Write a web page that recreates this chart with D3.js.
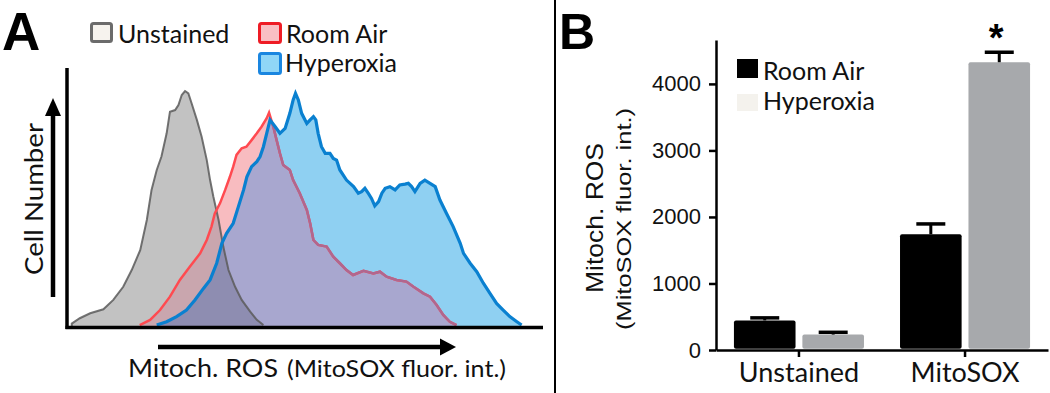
<!DOCTYPE html>
<html><head><meta charset="utf-8">
<script src="https://cdn.jsdelivr.net/npm/d3@7"></script>
<style>body{margin:0;background:#fff}svg{display:block}</style>
</head><body>
<svg id="chart" width="1050" height="393"></svg>
<script>
// ---------- Panel A: flow histograms (x = fluorescence channel 0-1000, y = % of max count) ----------
const unstainedHist = [[8,0],[8,1],[25,3.3],[47,5.4],[75,7.1],[96,11.1],[117,16.7],[135,23.8],[153,32.3],[167,45.1],[177,57.9],[188,66.4],[198,72.1],[209,82],[216,91.2],[227,91.9],[234,94],[241,98.3],[248,100],[255,99],[262,94.7],[273,87.7],[283,80.6],[294,70.6],[301,62.1],[308,55],[319,45.1],[329,33.8],[340,23.8],[354,16.7],[368,11.1],[386,6.1],[400,2.6],[414,0.4]];
const roomAirHist = [[152,0.4],[174,2.6],[195,6.8],[216,12.5],[237,19.6],[258,25.2],[280,30.9],[294,36.6],[304,42.3],[311,47.9],[322,52.2],[333,57.9],[343,63.5],[350,67.8],[357,72.8],[368,75.6],[378,76.3],[389,79.1],[400,82],[410,84.8],[421,88.4],[426,90.8],[435,84.8],[442,79.1],[449,73.5],[456,68.5],[470,66.4],[477,62.1],[491,56.5],[506,49.4],[513,43.7],[520,36.6],[530,34.5],[548,33.8],[562,29.5],[576,26.7],[590,23.8],[604,21.7],[626,23.5],[647,22.4],[661,23.1],[675,21],[696,19.6],[717,18.9],[732,16.7],[753,13.9],[767,12.5],[781,8.9],[795,4.7],[809,1.8],[823,0.4]];
const hyperoxiaHist = [[188,0.4],[209,1.8],[230,4.0],[251,6.8],[269,11.1],[287,16.0],[301,19.6],[315,26.7],[326,35.2],[336,39.4],[350,43.7],[361,50.8],[372,57.9],[379,63.5],[389,67.8],[400,69.9],[407,72.1],[414,76.3],[421,82.0],[428,87.7],[439,84.8],[449,82.0],[460,84.1],[470,90.5],[477,96.2],[482,99.0],[488,96.2],[495,90.5],[506,86.2],[513,87.7],[520,89.1],[525,87.7],[530,82.0],[537,76.3],[545,73.5],[555,73.5],[562,71.3],[569,70.6],[576,66.4],[590,62.1],[605,59.3],[615,56.5],[622,57.2],[629,58.6],[636,56.5],[643,54.3],[650,51.1],[658,52.9],[665,56.5],[672,58.6],[682,59.3],[693,57.9],[703,60.0],[714,60.4],[721,60.7],[728,59.3],[735,57.2],[746,60.7],[756,62.1],[767,60.7],[778,59.3],[788,53.6],[802,47.9],[816,42.3],[831,35.2],[838,30.9],[852,26.7],[866,23.1],[880,18.2],[894,13.9],[908,9.6],[922,6.8],[936,4.0],[951,1.8],[961,0.4]];
const histLegend = ["Unstained", "Room Air", "Hyperoxia"];

// ---------- Panel B: bar chart ----------
const categories = ["Unstained", "MitoSOX"];
const groups = ["Room Air", "Hyperoxia"];
const roomAirMean = [445, 1740];
const roomAirSE = [38, 155];
const hyperoxiaMean = [232, 4326];
const hyperoxiaSE = [34, 150];
const yTicksB = [0, 1000, 2000, 3000, 4000];

const CAL = "Lato, 'Open Sans', sans-serif";
const ARIAL = "'Liberation Sans', Arial, sans-serif";

const svg = d3.select("#chart");

// ===== Panel A =====
const xA = d3.scaleLinear().domain([0, 1000]).range([68, 540]);
const yA = d3.scaleLinear().domain([0, 100]).range([326, 91]);
const area = d3.area().x(d => xA(d[0])).y0(yA(0)).y1(d => yA(d[1]));
const line = d3.line().x(d => xA(d[0])).y(d => yA(d[1]));

const defs = svg.append("defs");
defs.append("clipPath").attr("id", "clipRed").append("path").attr("d", area(roomAirHist));
defs.append("clipPath").attr("id", "clipBlue").append("path").attr("d", area(hyperoxiaHist));

const gA = svg.append("g");
gA.append("path").attr("d", area(unstainedHist)).attr("fill", "#c2c2c2");
gA.append("path").attr("d", area(roomAirHist)).attr("fill", "#f8bcc0");
gA.append("path").attr("d", area(hyperoxiaHist)).attr("fill", "#8fd0f2");
const inRed = gA.append("g").attr("clip-path", "url(#clipRed)");
inRed.append("path").attr("d", area(hyperoxiaHist)).attr("fill", "#a8a7cf");
inRed.append("path").attr("d", area(unstainedHist)).attr("fill", "#c9a6ae");
inRed.append("g").attr("clip-path", "url(#clipBlue)")
  .append("path").attr("d", area(unstainedHist)).attr("fill", "#8e8db1");

gA.append("path").attr("d", line(unstainedHist)).attr("fill", "none")
  .attr("stroke", "#5a5a5a").attr("stroke-width", 2).attr("stroke-opacity", 0.85);
gA.append("path").attr("d", line(roomAirHist)).attr("fill", "none")
  .attr("stroke", "#ff4a50").attr("stroke-width", 2.5);
gA.append("g").attr("clip-path", "url(#clipBlue)")
  .append("path").attr("d", line(roomAirHist)).attr("fill", "none")
  .attr("stroke", "#b0678f").attr("stroke-width", 2.5);
gA.append("path").attr("d", line(hyperoxiaHist)).attr("fill", "none")
  .attr("stroke", "#0a80d0").attr("stroke-width", 3.2);

// axes frame
svg.append("line").attr("x1", 67).attr("x2", 67).attr("y1", 68).attr("y2", 329)
  .attr("stroke", "#000").attr("stroke-width", 3.5);
svg.append("line").attr("x1", 65.5).attr("x2", 543).attr("y1", 327.5).attr("y2", 327.5)
  .attr("stroke", "#000").attr("stroke-width", 3.5);

// Cell Number arrow
svg.append("line").attr("x1", 53).attr("x2", 53).attr("y1", 297).attr("y2", 112)
  .attr("stroke", "#000").attr("stroke-width", 4.5);
svg.append("path").attr("d", "M53,98 L45,116 L61,116 Z").attr("fill", "#000");
svg.append("text").attr("transform", "translate(43,199) rotate(-90)")
  .attr("text-anchor", "middle").attr("font-family", CAL).attr("font-size", 25)
  .attr("textLength", 152).attr("lengthAdjust", "spacingAndGlyphs")
  .attr("fill", "#111").text("Cell Number");

// x arrow
svg.append("line").attr("x1", 158).attr("x2", 444).attr("y1", 347).attr("y2", 347)
  .attr("stroke", "#000").attr("stroke-width", 4.5);
svg.append("path").attr("d", "M456,347 L440,338.5 L440,355.5 Z").attr("fill", "#000");
const xt = svg.append("text").attr("y", 377).attr("font-family", CAL).attr("fill", "#111");
xt.append("tspan").attr("x", 128).attr("font-size", 25)
  .attr("textLength", 150).attr("lengthAdjust", "spacingAndGlyphs").text("Mitoch. ROS");
xt.append("tspan").attr("x", 287).attr("font-size", 23)
  .attr("textLength", 219).attr("lengthAdjust", "spacingAndGlyphs").text("(MitoSOX fluor. int.)");

// panel label A
svg.append("text").attr("x", 2).attr("y", 50).attr("font-family", ARIAL).attr("font-weight", "bold")
  .attr("font-size", 53).text("A");

// legend A
const legA = [
  {name: histLegend[0], x: 91.5, y: 23.5, w: 20, h: 18, stroke: "#6b6b6b", fill: "#f6f3ee", tx: 118, ty: 43},
  {name: histLegend[1], x: 259.5, y: 23.5, w: 21, h: 19, stroke: "#ee1c25", fill: "#f9bfc3", tx: 286, ty: 43},
  {name: histLegend[2], x: 259.5, y: 53.5, w: 21, h: 20, stroke: "#1a86e0", fill: "#90d6f7", tx: 285, ty: 72}
];
legA.forEach(d => {
  svg.append("rect").attr("x", d.x).attr("y", d.y).attr("width", d.w).attr("height", d.h)
    .attr("rx", 2).attr("fill", d.fill).attr("stroke", d.stroke).attr("stroke-width", 3);
  svg.append("text").attr("x", d.tx).attr("y", d.ty).attr("font-family", CAL).attr("font-size", 25)
    .attr("fill", "#111").text(d.name);
});

// separator
svg.append("line").attr("x1", 555).attr("x2", 555).attr("y1", 0).attr("y2", 393)
  .attr("stroke", "#000").attr("stroke-width", 2);

// ===== Panel B =====
const yB = d3.scaleLinear().domain([0, 4660]).range([350, 40]);
const xB = d3.scaleBand().domain(categories).range([716, 1048]).paddingInner(0.217).paddingOuter(0.108);
const xSub = d3.scaleBand().domain(groups).range([0, xB.bandwidth()]).paddingInner(0.1);

const yAxis = svg.append("g").attr("transform", "translate(716,0)")
  .call(d3.axisLeft(yB).tickValues(yTicksB).tickFormat(d3.format("d")).tickSize(7).tickSizeOuter(0).tickPadding(8));
yAxis.selectAll("text").attr("font-family", ARIAL).attr("font-size", 22).attr("fill", "#111");
yAxis.selectAll("path,line").attr("stroke", "#000").attr("stroke-width", 2.5);

const xAxis = svg.append("g").attr("transform", "translate(0,350)")
  .call(d3.axisBottom(xB).tickSize(7).tickSizeOuter(0).tickPadding(6));
xAxis.selectAll("text").attr("font-family", CAL).attr("font-size", 27).attr("fill", "#111");
xAxis.selectAll("path,line").attr("stroke", "#000").attr("stroke-width", 2.5);

const barData = [];
categories.forEach((c, i) => {
  barData.push({cat: c, grp: groups[0], v: roomAirMean[i], se: roomAirSE[i], color: "#000"});
  barData.push({cat: c, grp: groups[1], v: hyperoxiaMean[i], se: hyperoxiaSE[i], color: "#a7a9ac"});
});
const gB = svg.append("g");
gB.selectAll("rect.bar").data(barData).join("rect").attr("class", "bar")
  .attr("x", d => xB(d.cat) + xSub(d.grp)).attr("width", xSub.bandwidth())
  .attr("y", d => yB(d.v)).attr("height", d => yB(0) - yB(d.v) - 1.2)
  .attr("rx", 2).attr("fill", d => d.color);
// error bars
gB.selectAll("line.stem").data(barData).join("line").attr("class", "stem")
  .attr("x1", d => xB(d.cat) + xSub(d.grp) + xSub.bandwidth() / 2)
  .attr("x2", d => xB(d.cat) + xSub(d.grp) + xSub.bandwidth() / 2)
  .attr("y1", d => yB(d.v)).attr("y2", d => yB(d.v + d.se))
  .attr("stroke", "#000").attr("stroke-width", 3);
gB.selectAll("line.cap").data(barData).join("line").attr("class", "cap")
  .attr("x1", d => xB(d.cat) + xSub(d.grp) + xSub.bandwidth() / 2 - 14.5)
  .attr("x2", d => xB(d.cat) + xSub(d.grp) + xSub.bandwidth() / 2 + 14.5)
  .attr("y1", d => yB(d.v + d.se)).attr("y2", d => yB(d.v + d.se))
  .attr("stroke", "#000").attr("stroke-width", 3.5);
// significance star
svg.append("text")
  .attr("x", xB(categories[1]) + xSub(groups[1]) + xSub.bandwidth() / 2 - 3)
  .attr("y", yB(hyperoxiaMean[1] + hyperoxiaSE[1]) - 1)
  .attr("text-anchor", "middle").attr("font-family", ARIAL).attr("font-weight", "bold")
  .attr("font-size", 38).text("*");

// y title
svg.append("text").attr("transform", "translate(603,218) rotate(-90)").attr("text-anchor", "middle")
  .attr("font-family", ARIAL).attr("font-size", 24).attr("fill", "#111")
  .attr("textLength", 150).attr("lengthAdjust", "spacingAndGlyphs").text("Mitoch. ROS");
svg.append("text").attr("transform", "translate(631,219) rotate(-90)").attr("text-anchor", "middle")
  .attr("font-family", ARIAL).attr("font-size", 21).attr("fill", "#111")
  .attr("textLength", 222).attr("lengthAdjust", "spacingAndGlyphs").text("(MitoSOX fluor. int.)");

// panel label B
svg.append("text").attr("x", 559).attr("y", 49).attr("font-family", ARIAL).attr("font-weight", "bold")
  .attr("font-size", 50).text("B");

// legend B
const legB = [
  {name: groups[0], fill: "#000", y: 59, h: 19, ty: 80},
  {name: groups[1], fill: "#f4f2ed", y: 94, h: 17, ty: 110}
];
legB.forEach(d => {
  svg.append("rect").attr("x", 737).attr("y", d.y).attr("width", 21).attr("height", d.h).attr("fill", d.fill);
  svg.append("text").attr("x", 763).attr("y", d.ty).attr("font-family", CAL).attr("font-size", 25)
    .attr("fill", "#111").text(d.name);
});
</script>
</body></html>
